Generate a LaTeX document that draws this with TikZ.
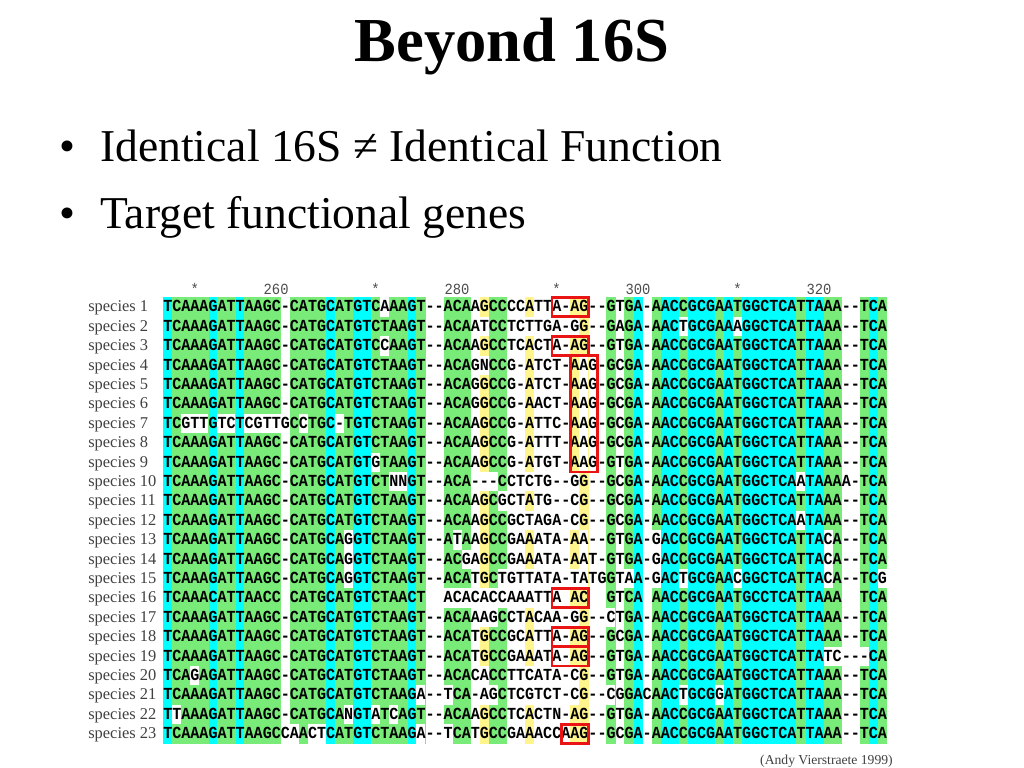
\documentclass[tikz,border=0pt]{standalone}
\usepackage{fontspec}
\setmainfont{Liberation Serif}
\newfontfamily\seqfont[FakeStretch=0.8935,Ligatures=TeXOff]{Liberation Mono}
\definecolor{allcons}{RGB}{0,255,255}
\definecolor{mostcons}{RGB}{120,235,120}
\definecolor{somecons}{RGB}{255,245,140}
\definecolor{boxred}{RGB}{235,20,20}

\begin{document}
\begin{tikzpicture}[x=0.025cm, y=-0.025cm,
  seq/.style={anchor=base west, inner sep=0pt, font=\seqfont\bfseries\fontsize{12}{12}\selectfont},
  spname/.style={anchor=base west, inner sep=0pt, text=black!75, font=\fontsize{11.7}{12}\selectfont},
  ruler/.style={anchor=base, inner sep=0pt, text=black!70, font=\seqfont\fontsize{11}{11}\selectfont},
  hit/.style={draw=boxred, line width=2pt}]
  \useasboundingbox (0,0) rectangle (1024,768);

  % slide text
  \node [anchor=base, font=\bfseries\fontsize{44.5}{48}\selectfont] (title) at (512,62) {Beyond 16S};
  \node [anchor=base, font=\fontsize{32.4}{36}\selectfont] (dot1) at (67,162) {•};
  \node [anchor=base west, inner sep=0pt, font=\fontsize{32.4}{36}\selectfont] (b1) at (100,162) {Identical 16S ≠ Identical Function};
  \node [anchor=base, font=\fontsize{32.4}{36}\selectfont] (dot2) at (67,228) {•};
  \node [anchor=base west, inner sep=0pt, font=\fontsize{32.4}{36}\selectfont] (b2) at (100,228) {Target functional genes};
  \node [anchor=base east, inner sep=0pt, text=black!75, font=\fontsize{9.7}{10}\selectfont] (credit) at (893,764) {(Andy Vierstraete 1999)};

  % alignment: one unit = one column / one row
  \begin{scope}[shift={(163,297.3)}, x=0.22615cm, y=-0.485cm]
    \foreach \c in {1,6,9,19,22,23,28,53,56,57,59,60,61,63,65,66,67,68,69,70,72,73,79}
      \fill [allcons] (\c-1,0) rectangle (\c+0.03,23);
    \foreach \c in {2,3,4,5,7,8,10,11,12,13,15,16,17,18,20,21,24,25,26,27,29,32,33,34,37,38,50,52,55,58,62,64,71,74,75,78,80}
      \fill [mostcons] (\c-1,0) rectangle (\c+0.03,23);
    \foreach \c in {36,41,46,47}
      \fill [somecons] (\c-1,0) rectangle (\c+0.03,23);
    % residues off the consensus
    \foreach \c/\r in {2/22, 3/7, 4/7, 4/20, 5/7, 7/7, 8/7, 10/7, 11/7, 12/7, 13/7, 15/23, 16/7, 17/23, 18/23, 20/7,
        21/13, 21/14, 21/15, 21/22, 24/9, 24/22, 25/1, 25/3, 26/10, 26/22, 27/10, 29/21, 29/23,
        32/16, 32/21, 32/23, 33/13, 33/16, 34/14, 34/16, 36/2, 36/4, 36/10, 36/16, 36/17, 36/20, 36/21,
        37/10, 37/16, 37/17, 37/21, 38/11, 38/15, 38/16, 41/2, 41/10, 41/12, 41/15, 41/16, 41/20, 41/21,
        46/2, 46/10, 46/11, 46/12, 46/15, 46/17, 46/20, 46/21, 47/4, 47/5, 47/6, 47/7, 47/8, 47/9, 47/13, 47/14, 47/15,
        50/17, 50/21, 52/15, 55/13, 55/14, 55/15, 58/2, 58/15, 58/21, 62/21, 64/2, 64/15, 71/10, 71/12,
        74/13, 74/14, 74/15, 74/19, 75/19, 78/19, 80/15}
      \fill [white] (\c-1,\r-1) rectangle (\c,\r);

    \foreach \c/\t [count=\i] in {4/*, 13/260, 24/*, 33/280, 44/*, 53/300, 64/*, 73/320}
      \node [ruler] (tick\i) at (\c-0.5,-0.12) {\t};

    \foreach \r/\s in {
        1/TCAAAGATTAAGC-CATGCATGTCAAAGT--ACAAGCCCCATTA-AG--GTGA-AACCGCGAATGGCTCATTAAA--TCA,
        2/TCAAAGATTAAGC-CATGCATGTCTAAGT--ACAATCCTCTTGA-GG--GAGA-AACTGCGAAAGGCTCATTAAA--TCA,
        3/TCAAAGATTAAGC-CATGCATGTCCAAGT--ACAAGCCTCACTA-AG--GTGA-AACCGCGAATGGCTCATTAAA--TCA,
        4/TCAAAGATTAAGC-CATGCATGTCTAAGT--ACAGNCCG-ATCT-AAG-GCGA-AACCGCGAATGGCTCATTAAA--TCA,
        5/TCAAAGATTAAGC-CATGCATGTCTAAGT--ACAGGCCG-ATCT-AAG-GCGA-AACCGCGAATGGCTCATTAAA--TCA,
        6/TCAAAGATTAAGC-CATGCATGTCTAAGT--ACAGGCCG-AACT-AAG-GCGA-AACCGCGAATGGCTCATTAAA--TCA,
        7/TCGTTGTCTCGTTGCCTGC-TGTCTAAGT--ACAAGCCG-ATTC-AAG-GCGA-AACCGCGAATGGCTCATTAAA--TCA,
        8/TCAAAGATTAAGC-CATGCATGTCTAAGT--ACAAGCCG-ATTT-AAG-GCGA-AACCGCGAATGGCTCATTAAA--TCA,
        9/TCAAAGATTAAGC-CATGCATGTGTAAGT--ACAAGCCG-ATGT-AAG-GTGA-AACCGCGAATGGCTCATTAAA--TCA,
        10/TCAAAGATTAAGC-CATGCATGTCTNNGT--ACA---CCTCTG--GG--GCGA-AACCGCGAATGGCTCAATAAAA-TCA,
        11/TCAAAGATTAAGC-CATGCATGTCTAAGT--ACAAGCGCTATG--CG--GCGA-AACCGCGAATGGCTCATTAAA--TCA,
        12/TCAAAGATTAAGC-CATGCATGTCTAAGT--ACAAGCCGCTAGA-CG--GCGA-AACCGCGAATGGCTCAATAAA--TCA,
        13/TCAAAGATTAAGC-CATGCAGGTCTAAGT--ATAAGCCGAAATA-AA--GTGA-GACCGCGAATGGCTCATTACA--TCA,
        14/TCAAAGATTAAGC-CATGCAGGTCTAAGT--ACGAGCCGAAATA-AAT-GTGA-GACCGCGAATGGCTCATTACA--TCA,
        15/TCAAAGATTAAGC-CATGCAGGTCTAAGT--ACATGCTGTTATA-TATGGTAA-GACTGCGAACGGCTCATTACA--TCG,
        16/TCAAACATTAACC~CATGCATGTCTAACT~~ACACACCAAATTA~AC~~GTCA~AACCGCGAATGCCTCATTAAA~~TCA,
        17/TCAAAGATTAAGC-CATGCATGTCTAAGT--ACAAAGCCTACAA-GG--CTGA-AACCGCGAATGGCTCATTAAA--TCA,
        18/TCAAAGATTAAGC-CATGCATGTCTAAGT--ACATGCCGCATTA-AG--GCGA-AACCGCGAATGGCTCATTAAA--TCA,
        19/TCAAAGATTAAGC-CATGCATGTCTAAGT--ACATGCCGAAATA-AG--GTGA-AACCGCGAATGGCTCATTATC---CA,
        20/TCAGAGATTAAGC-CATGCATGTCTAAGT--ACACACCTTCATA-CG--GTGA-AACCGCGAATGGCTCATTAAA--TCA,
        21/TCAAAGATTAAGC-CATGCATGTCTAAGA--TCA-AGCTCGTCT-CG--CGGACAACTGCGGATGGCTCATTAAA--TCA,
        22/TTAAAGATTAAGC-CATGCANGTATCAGT--ACAAGCCTCACTN-AG--GTGA-AACCGCGAATGGCTCATTAAA--TCA,
        23/TCAAAGATTAAGCCAACTCATGTCTAAGA--TCATGCCGAAACCAAG--GCGA-AACCGCGAATGGCTCATTAAA--TCA}
    {
      \node [spname] (name\r) at (-8.29,\r-0.25) {species \r};
      \node [seq] (seq\r) at (0,\r-0.25) {\s};
    }

    % boxed indels
    \draw [hit] (43,0) rectangle (47,1);
    \draw [hit] (43,2) rectangle (47,3);
    \draw [hit] (45,3) rectangle (48,9);
    \draw [hit] (43,15) rectangle (47,16);
    \draw [hit] (43,17) rectangle (47,18);
    \draw [hit] (43,18) rectangle (47,19);
    \draw [hit] (44,22) rectangle (47,23);
  \end{scope}
\end{tikzpicture}
\end{document}
